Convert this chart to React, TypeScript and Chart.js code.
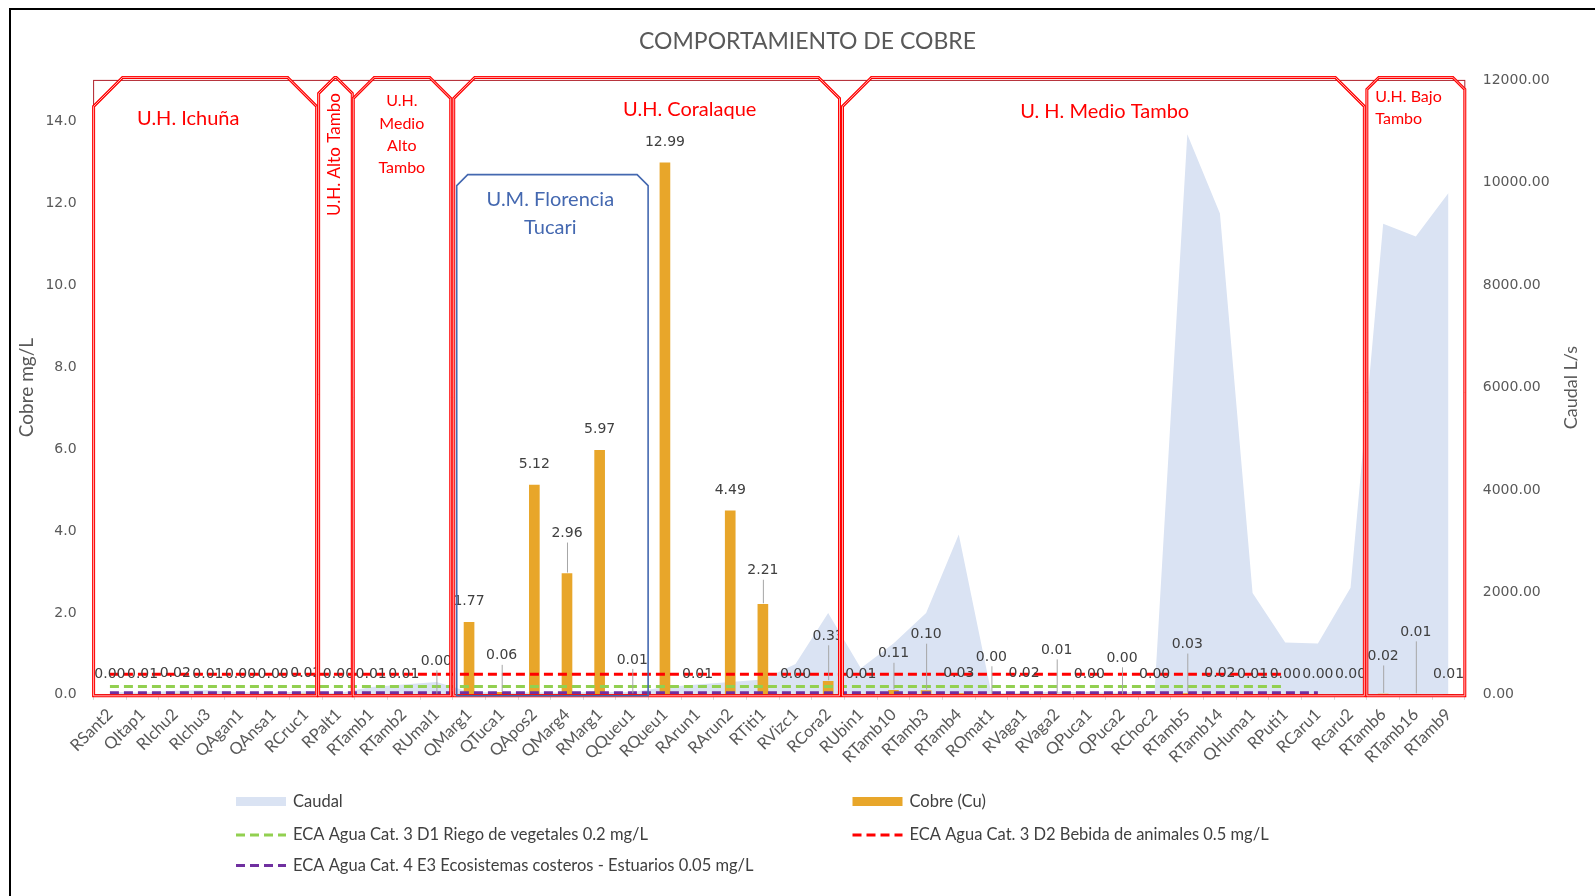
import React, { useEffect, useRef } from "react";
import { Chart, registerables } from "chart.js";

Chart.register(...registerables);

// ---------- DATA ----------
const CATEGORIES = [
  "RSant2", "QItap1", "RIchu2", "RIchu3", "QAgan1", "QAnsa1", "RCruc1", "RPalt1",
  "RTamb1", "RTamb2", "RUmal1", "QMarg1", "QTuca1", "QApos2", "QMarg4", "RMarg1",
  "QQueu1", "RQueu1", "RArun1", "RArun2", "RTiti1", "RVizc1", "RCora2", "RUbin1",
  "RTamb10", "RTamb3", "RTamb4", "ROmat1", "RVaga1", "RVaga2", "QPuca1", "QPuca2",
  "RChoc2", "RTamb5", "RTamb14", "QHuma1", "RPuti1", "RCaru1", "Rcaru2", "RTamb6",
  "RTamb16", "RTamb9",
];

const COBRE = [
  0.0, 0.01, 0.02, 0.01, 0.0, 0.0, 0.02, 0.0, 0.01, 0.01, 0.0, 1.77, 0.06, 5.12,
  2.96, 5.97, 0.01, 12.99, 0.01, 4.49, 2.21, 0.0, 0.33, 0.01, 0.11, 0.1, 0.03, 0.0,
  0.02, 0.01, 0.0, 0.0, 0.0, 0.03, 0.02, 0.01, 0.0, 0.0, 0.0, 0.02, 0.01, 0.01,
];

const CAUDAL = [
  60, 40, 80, 90, 50, 40, 70, 30, 150, 200, 250, 60, 40, 50, 40, 60, 50, 150, 200,
  250, 300, 600, 1600, 520, 1000, 1600, 3130, 30, 40, 60, 50, 40, 80, 10950, 9400,
  1990, 1020, 1000, 2090, 9200, 8950, 9800,
];

const ECA_D1 = 0.2; // riego de vegetales
const ECA_D2 = 0.5; // bebida de animales
const ECA_E3 = 0.05; // estuarios
const ECA_D1_LAST = 36;
const ECA_D2_LAST = 36;
const ECA_E3_LAST = 37;

const LEFT_TICKS_MAX = 15;
const LEFT_STEP = 2;
const RIGHT_TICKS_MAX = 12000;
const RIGHT_STEP = 2000;

const TITLE = "COMPORTAMIENTO DE COBRE";
const LEFT_TITLE = "Cobre mg/L";
const RIGHT_TITLE = "Caudal L/s";

const LEGEND_LABELS = [
  "Caudal",
  "Cobre (Cu)",
  "ECA Agua Cat. 3 D1 Riego de vegetales 0.2 mg/L",
  "ECA Agua Cat. 3 D2 Bebida de animales 0.5 mg/L",
  "ECA Agua Cat. 4 E3 Ecosistemas costeros - Estuarios 0.05 mg/L",
];

// group boxes (category index ranges)
const GROUP_FROM = [0, 7, 8, 11, 23, 39, 11];
const GROUP_TO = [6, 7, 10, 22, 38, 41, 16];

// ---------- STYLE ----------
const C_AREA = "#DAE3F3";
const C_BAR = "#E8A62A";
const C_GREEN = "#92D050";
const C_RED = "#FF0000";
const C_PURPLE = "#7030A0";
const C_TEXT = "#595959";
const C_LABEL = "#404040";
const C_BLUE = "#4468B0";

const NUM_FONT = "'DejaVu Sans', sans-serif";
const TXT_FONT = "Lato, 'Open Sans', sans-serif";

// per box style: left/right inset (px), chamfer (px), color, top (y-value for the blue box)
const BOX_STYLE = [
  { inL: 0, inR: -5.5, cham: 29, color: "red" },
  { inL: -3.5, inR: -2.5, cham: 16, color: "red" },
  { inL: -1.5, inR: -2, cham: 21, color: "red" },
  { inL: 1, inR: -5, cham: 21, color: "red" },
  { inL: -2, inR: -2.5, cham: 29, color: "red" },
  { inL: 0, inR: 0, cham: 12, color: "red" },
  { inL: 4, inR: -0.5, cham: 11, color: "blue", topVal: 12.7 },
];

// group text annotations: x in category index units, y in left-axis units
const GROUP_TEXT = [
  { lines: ["U.H. Ichuña"], x: 2.4, y: [14.08], size: 20, color: C_RED, align: "center" },
  { lines: ["U.H. Alto Tambo"], x: 6.88, y: [13.19], size: 17, color: C_RED, align: "center", rotate: true },
  { lines: ["U.H.", "Medio", "Alto", "Tambo"], x: 8.94, y: [14.5, 13.95, 13.4, 12.86], size: 16, color: C_RED, align: "center" },
  { lines: ["U.H. Coralaque"], x: 17.76, y: [14.28], size: 20, color: C_RED, align: "center" },
  { lines: ["U. H. Medio Tambo"], x: 30.47, y: [14.23], size: 20, color: C_RED, align: "center" },
  { lines: ["U.H. Bajo", "Tambo"], x: 38.76, y: [14.6, 14.05], size: 16, color: C_RED, align: "left" },
  { lines: ["U.M. Florencia", "Tucari"], x: 13.49, y: [12.09, 11.4], size: 20, color: C_BLUE, align: "center" },
];

// extra lift (px) of bar value labels that were moved up with leader lines
const LABEL_LIFT: Record<number, number> = {
  10: 13, 12: 16, 14: 19.5, 16: 14, 20: 13, 22: 24.5, 24: 16, 25: 35.5, 27: 17,
  29: 23.5, 31: 16, 33: 28.5, 39: 17, 40: 41.5,
};

const CHART_LEFT = 93.6;
const CHART_RIGHT = 1464.8;
const CHART_TOP = 80.4;
const CHART_BOTTOM = 694.8;
const W = 1595;
const H = 896;
const X_AXIS_H = 80;

function ecaSeries(v: number, last: number) {
  return CATEGORIES.map((_, i) => (i <= last ? v : null));
}

function snipPath(ctx: CanvasRenderingContext2D, l: number, t: number, r: number, b: number, c: number) {
  const cc = Math.min(c, (r - l) / 2);
  ctx.beginPath();
  ctx.moveTo(l, b);
  ctx.lineTo(l, t + cc);
  ctx.lineTo(l + cc, t);
  ctx.lineTo(r - cc, t);
  ctx.lineTo(r, t + cc);
  ctx.lineTo(r, b);
  ctx.closePath();
}

const overlayPlugin = {
  id: "overlay",
  afterDatasetsDraw(chart: any) {
    const ctx: CanvasRenderingContext2D = chart.ctx;
    const xs = chart.scales.x;
    const ys = chart.scales.y;
    const area = chart.chartArea;
    const half = (xs.getPixelForValue(1) - xs.getPixelForValue(0)) / 2;

    // plot border (dark red)
    ctx.save();
    ctx.strokeStyle = "#B0202A";
    ctx.lineWidth = 1;
    ctx.strokeRect(area.left, area.top, area.right - area.left, area.bottom - area.top);
    ctx.restore();

    // bar value labels
    const meta = chart.getDatasetMeta(1);
    ctx.save();
    ctx.font = `14px ${NUM_FONT}`;
    ctx.fillStyle = C_LABEL;
    ctx.textAlign = "center";
    ctx.textBaseline = "middle";
    meta.data.forEach((el: any, i: number) => {
      const v = COBRE[i];
      const lift = LABEL_LIFT[i] || 0;
      const cy = el.y - 20.5 - lift;
      if (lift > 0) {
        ctx.save();
        ctx.strokeStyle = "#A6A6A6";
        ctx.lineWidth = 1;
        ctx.beginPath();
        ctx.moveTo(el.x + 0.5, cy + 9);
        ctx.lineTo(el.x + 0.5, el.y - 1);
        ctx.stroke();
        ctx.restore();
      }
      ctx.fillText(v.toFixed(2), el.x, cy);
    });
    ctx.restore();

    // group boxes
    GROUP_FROM.forEach((from, gi) => {
      const st = BOX_STYLE[gi];
      const l = xs.getPixelForValue(from) - half + st.inL;
      const r = xs.getPixelForValue(GROUP_TO[gi]) + half + st.inR;
      const t = st.topVal !== undefined ? ys.getPixelForValue(st.topVal) : area.top - 3;
      const b = area.bottom + 1;
      ctx.save();
      if (st.color === "red") {
        snipPath(ctx, l, t, r, b, st.cham);
        ctx.strokeStyle = C_RED;
        ctx.lineWidth = 3;
        ctx.stroke();
        snipPath(ctx, l, t, r, b, st.cham);
        ctx.strokeStyle = "rgba(255,215,215,0.9)";
        ctx.lineWidth = 0.9;
        ctx.stroke();
      } else {
        snipPath(ctx, l, t, r, b, st.cham);
        ctx.strokeStyle = C_BLUE;
        ctx.lineWidth = 1.6;
        ctx.stroke();
      }
      ctx.restore();
    });

    // group texts
    GROUP_TEXT.forEach((g) => {
      ctx.save();
      ctx.font = `${g.size}px ${TXT_FONT}`;
      ctx.fillStyle = g.color;
      ctx.textBaseline = "middle";
      const px = xs.getPixelForValue(g.x);
      if (g.rotate) {
        ctx.translate(px, ys.getPixelForValue(g.y[0]));
        ctx.rotate(-Math.PI / 2);
        ctx.textAlign = "center";
        ctx.fillText(g.lines[0], 0, 0);
      } else {
        ctx.textAlign = g.align as CanvasTextAlign;
        g.lines.forEach((line, li) => {
          ctx.fillText(line, px, ys.getPixelForValue(g.y[li]));
        });
      }
      ctx.restore();
    });
  },
  afterDraw(chart: any) {
    const ctx: CanvasRenderingContext2D = chart.ctx;
    const area = chart.chartArea;
    // title
    ctx.save();
    ctx.font = `23px ${TXT_FONT}`;
    ctx.fillStyle = C_TEXT;
    ctx.textAlign = "center";
    ctx.textBaseline = "middle";
    ctx.fillText(TITLE, 807.5, 41.5);
    ctx.restore();

    // right axis title (reads bottom to top)
    ctx.save();
    ctx.font = `18px ${TXT_FONT}`;
    ctx.fillStyle = C_TEXT;
    ctx.textAlign = "center";
    ctx.textBaseline = "middle";
    ctx.translate(1571.5, (area.top + area.bottom) / 2);
    ctx.rotate(-Math.PI / 2);
    ctx.fillText(RIGHT_TITLE, 0, 0);
    ctx.restore();

    // legend
    const items = [
      { kind: "box", color: C_AREA, x: 236, y: 801.5 },
      { kind: "box", color: C_BAR, x: 852.5, y: 801.5 },
      { kind: "dash", color: C_GREEN, x: 236, y: 835 },
      { kind: "dash", color: C_RED, x: 852.5, y: 835 },
      { kind: "dash", color: C_PURPLE, x: 236, y: 865.5 },
    ];
    items.forEach((it, i) => {
      ctx.save();
      if (it.kind === "box") {
        ctx.fillStyle = it.color;
        ctx.fillRect(it.x, it.y - 4.5, 50, 9);
      } else {
        ctx.strokeStyle = it.color;
        ctx.lineWidth = 3;
        ctx.setLineDash([9, 5]);
        ctx.beginPath();
        ctx.moveTo(it.x, it.y);
        ctx.lineTo(it.x + 50, it.y);
        ctx.stroke();
      }
      ctx.setLineDash([]);
      ctx.font = `16.5px ${TXT_FONT}`;
      ctx.fillStyle = C_LABEL;
      ctx.textAlign = "left";
      ctx.textBaseline = "middle";
      ctx.fillText(LEGEND_LABELS[i], it.x + 57, it.y);
      ctx.restore();
    });
  },
};

export default function App() {
  const ref = useRef<HTMLCanvasElement>(null);

  useEffect(() => {
    const canvas = ref.current;
    if (!canvas) return;
    const chart = new Chart(canvas, {
      type: "bar",
      data: {
        labels: CATEGORIES,
        datasets: [
          {
            type: "line",
            label: LEGEND_LABELS[0],
            data: CAUDAL,
            yAxisID: "y1",
            fill: "origin",
            backgroundColor: C_AREA,
            borderWidth: 0,
            pointRadius: 0,
            tension: 0,
            order: 5,
          } as any,
          {
            type: "bar",
            label: LEGEND_LABELS[1],
            data: COBRE,
            yAxisID: "y",
            backgroundColor: C_BAR,
            barThickness: 10,
            order: 4,
          },
          {
            type: "line",
            label: LEGEND_LABELS[2],
            data: ecaSeries(ECA_D1, ECA_D1_LAST),
            yAxisID: "y",
            borderColor: C_GREEN,
            borderWidth: 3,
            borderDash: [9, 5],
            pointRadius: 0,
            fill: false,
            order: 3,
          } as any,
          {
            type: "line",
            label: LEGEND_LABELS[3],
            data: ecaSeries(ECA_D2, ECA_D2_LAST),
            yAxisID: "y",
            borderColor: C_RED,
            borderWidth: 3,
            borderDash: [9, 5],
            pointRadius: 0,
            fill: false,
            order: 2,
          } as any,
          {
            type: "line",
            label: LEGEND_LABELS[4],
            data: ecaSeries(ECA_E3, ECA_E3_LAST),
            yAxisID: "y",
            borderColor: C_PURPLE,
            borderWidth: 3,
            borderDash: [9, 5],
            pointRadius: 0,
            fill: false,
            order: 1,
          } as any,
        ],
      },
      options: {
        responsive: false,
        animation: false,
        devicePixelRatio: 1,
        layout: {
          padding: {
            top: CHART_TOP,
            left: 0,
            right: 0,
            bottom: H - CHART_BOTTOM - X_AXIS_H,
          },
        },
        plugins: {
          legend: { display: false },
          title: { display: false },
          tooltip: { enabled: false },
        },
        scales: {
          x: {
            type: "category",
            offset: true,
            grid: {
              display: true,
              offset: true,
              drawOnChartArea: false,
              drawTicks: true,
              tickLength: 5,
              color: "#D9D9D9",
            },
            border: { display: true, color: "#D9D9D9" },
            ticks: {
              autoSkip: false,
              maxRotation: 45,
              minRotation: 45,
              padding: 5,
              color: C_TEXT,
              font: { family: TXT_FONT, size: 16.5 },
            },
            afterFit: (s: any) => {
              s.height = X_AXIS_H;
            },
          },
          y: {
            type: "linear",
            position: "left",
            min: 0,
            max: LEFT_TICKS_MAX,
            grid: { display: false },
            border: { display: false },
            ticks: {
              stepSize: LEFT_STEP,
              includeBounds: false,
              padding: 9,
              color: C_TEXT,
              font: { family: NUM_FONT, size: 14 },
              callback: (v: any) => Number(v).toFixed(1),
            },
            title: {
              display: true,
              text: LEFT_TITLE,
              color: C_TEXT,
              font: { family: TXT_FONT, size: 19 },
              padding: { top: 15, bottom: 0 },
            },
            afterFit: (s: any) => {
              s.width = CHART_LEFT;
            },
          },
          y1: {
            type: "linear",
            position: "right",
            min: 0,
            max: RIGHT_TICKS_MAX,
            grid: { display: false },
            border: { display: false },
            ticks: {
              stepSize: RIGHT_STEP,
              padding: 10,
              color: C_TEXT,
              font: { family: NUM_FONT, size: 14 },
              callback: (v: any) => Number(v).toFixed(2),
            },
            afterFit: (s: any) => {
              s.width = W - CHART_RIGHT;
            },
          },
        },
      } as any,
      plugins: [overlayPlugin],
    });
    return () => chart.destroy();
  }, []);

  return (
    <div
      style={{
        position: "fixed",
        left: 0,
        top: 0,
        width: W,
        height: H,
        background: "#fff",
        overflow: "hidden",
      }}
    >
      <div
        style={{
          position: "absolute",
          left: 9,
          top: 8,
          width: 1600,
          height: 900,
          borderLeft: "2px solid #000",
          borderTop: "2px solid #000",
        }}
      />
      <canvas
        ref={ref}
        width={W}
        height={H}
        style={{ position: "absolute", left: 0, top: 0, width: W, height: H }}
      />
    </div>
  );
}
